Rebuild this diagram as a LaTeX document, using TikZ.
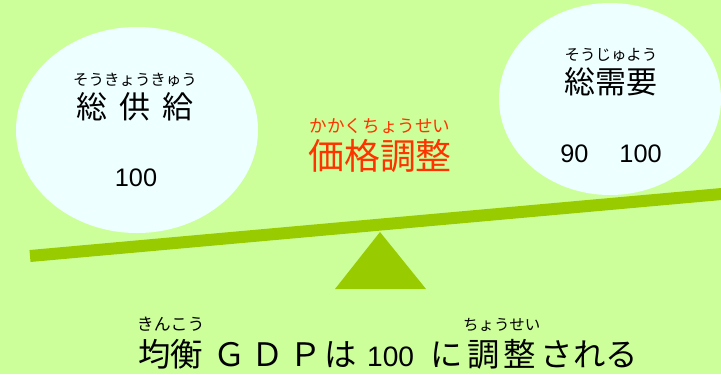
\documentclass[tikz,border=0pt]{standalone}
\usepackage{fontspec}
\setmainfont{Liberation Sans}
\newfontfamily\jp{Noto Sans CJK JP}
\usetikzlibrary{positioning}
\definecolor{field}{HTML}{CCFF99}
\definecolor{beam}{HTML}{99CC00}
\definecolor{bubble}{HTML}{EEFFFF}
\definecolor{adjust}{HTML}{FF3300}
\tikzset{
  ruby/.style={font=\jp\fontsize{11}{12}\selectfont, inner sep=0pt},
  word/.style={font=\jp\fontsize{22}{24}\selectfont, inner sep=0pt},
  line/.style={font=\jp\fontsize{23}{25}\selectfont, inner sep=0pt},
  num/.style={font=\fontsize{18}{20}\selectfont, inner sep=0pt}
}
\begin{document}
\begin{tikzpicture}[x=0.025cm,y=-0.025cm,line join=round]
		\def\w{721}
		\def\h{374}
		\useasboundingbox (0,0) rectangle (\w,\h);
		\clip (0,0) rectangle (\w,\h);
		\fill [field] (0,0) rectangle (\w,\h);
		%
		\fill [bubble] (137,130) ellipse [x radius=121, y radius=103];
		\fill [bubble] (610,99) ellipse [x radius=111, y radius=96];
		%
		\draw [beam, line width=0.3cm] (30,256)--(725,193.7);
		\fill [beam] (380,232)--(426,289)--(335,289)--cycle;
		%
		\node [word] (supply) at (135,107) {総\hspace{8.5pt}供\hspace{8.5pt}給};
		\node [ruby, above=4pt of supply] (supplyruby) {そうきょうきゅう};
		\node [num] (supplyval) at (136,178) {100};
		%
		\node [word] (demand) at (611,82) {総需要};
		\node [ruby, above=4pt of demand] (demandruby) {そうじゅよう};
		\node [num] (demandval) at (611,154) {90\hspace{22pt}100};
		%
		\node [word, adjust, font=\jp\fontsize{25.5}{28}\selectfont] (price) at (380,156) {価格調整};
		\node [ruby, adjust, font=\jp\fontsize{12.5}{14}\selectfont, above=4pt of price] (priceruby) {かかくちょうせい};
		%
		\node [line, anchor=base west] (kinkou) at (138,366) {均衡};
		\node [line, base right=7pt of kinkou] (gdp) {Ｇ\hspace{4pt}Ｄ\hspace{4pt}Ｐ\hspace{2pt}は};
		\node [num, font=\fontsize{20}{22}\selectfont, base right=7pt of gdp] (hundred) {100};
		\node [line, base right=11pt of hundred] (ni) {に};
		\node [line, base right=3pt of ni] (chousei) {調\hspace{3pt}整};
		\node [line, base right=3pt of chousei] (sareru) {される};
		\node [ruby, font=\jp\fontsize{12}{13}\selectfont, above=5pt of kinkou] (kinkouruby) {きんこう};
		\node [ruby, above=5pt of chousei] (chouseiruby) {ちょうせい};
	\end{tikzpicture}
\end{document}
